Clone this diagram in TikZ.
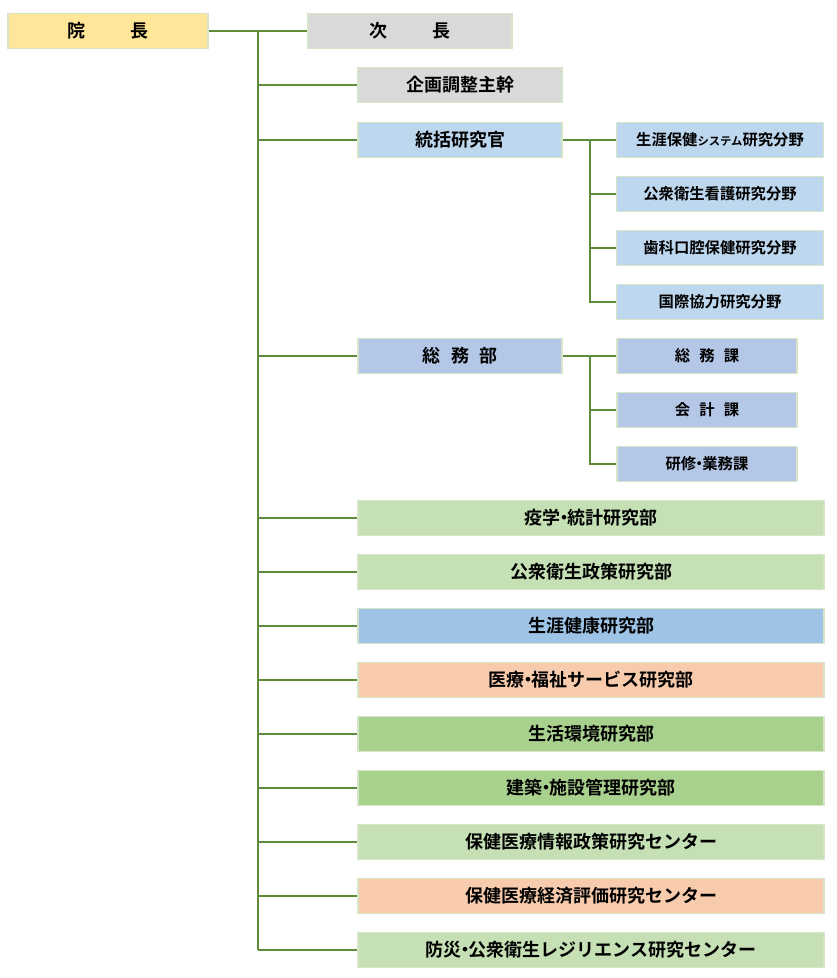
\documentclass[tikz,border=0pt]{standalone}
\usepackage{fontspec}
\setmainfont{Noto Sans CJK JP}[BoldFont={* Bold}]
\usepackage{tikz}

\definecolor{linegreen}{HTML}{5E8C3A}
\definecolor{boxedge}{HTML}{D6E4C8}
\definecolor{cyellow}{HTML}{FFE699}
\definecolor{cgray}{HTML}{D9D9D9}
\definecolor{cpaleblue}{HTML}{BDD7EE}
\definecolor{cblue}{HTML}{B4C7E7}
\definecolor{cmidblue}{HTML}{9DC3E6}
\definecolor{cpalegreen}{HTML}{C5E0B4}
\definecolor{cgreen}{HTML}{A9D18E}
\definecolor{corange}{HTML}{F8CBAD}

\tikzset{
  box/.style={draw=boxedge, line width=0.8pt, minimum height=26.25pt, inner sep=0pt, font=\bfseries\fontsize{13.5}{15}\selectfont},
  midbox/.style={box, minimum width=153pt},
  subbox/.style={box, minimum width=155.25pt, font=\bfseries\fontsize{11.5}{13}\selectfont},
  smallbox/.style={box, minimum width=135pt, font=\bfseries\fontsize{11.5}{13}\selectfont},
  widebox/.style={box, minimum width=349.5pt},
  wire/.style={draw=linegreen, line width=2.2pt}
}

\begin{document}
\begin{tikzpicture}[x=0.75pt,y=-0.75pt]
  \useasboundingbox (0,0) rectangle (836,978);

  \node[box, minimum width=150pt, fill=cyellow] (director) at (108,31) {院\hspace{2.5em}長};
  \node[box, minimum width=153pt, fill=cgray] (deputy) at (410,31) {次\hspace{2.5em}長};
  \node[midbox, fill=cgray] (planning) at (460,85) {企画調整主幹};
  \node[midbox, fill=cpaleblue] (chief) at (460,140) {統括研究官};
  \node[subbox, fill=cpaleblue] (lifelong) at (720,140) {生涯保健{\fontsize{8.5}{10}\selectfont システム}研究分野};
  \node[subbox, fill=cpaleblue] (nursing) at (720,194) {公衆衛生看護研究分野};
  \node[subbox, fill=cpaleblue] (dental) at (720,248) {歯科口腔保健研究分野};
  \node[subbox, fill=cpaleblue] (intl) at (720,302) {国際協力研究分野};
  \node[midbox, fill=cblue] (admin) at (460,356) {総\hspace{0.6em}務\hspace{0.6em}部};
  \node[smallbox, fill=cblue] (general) at (707,356) {総\hspace{0.6em}務\hspace{0.6em}課};
  \node[smallbox, fill=cblue] (account) at (707,410) {会\hspace{0.6em}計\hspace{0.6em}課};
  \node[smallbox, fill=cblue] (training) at (707,464) {研修\kern-0.3em・\kern-0.3em業務課};

  \node[widebox, fill=cpalegreen] (epi) at (591,518) {疫学\kern-0.3em・\kern-0.3em統計研究部};
  \node[widebox, fill=cpalegreen] (policy) at (591,572) {公衆衛生政策研究部};
  \node[widebox, fill=cmidblue] (health) at (591,626) {生涯健康研究部};
  \node[widebox, fill=corange] (welfare) at (591,680) {医療\kern-0.3em・\kern-0.3em福祉サービス研究部};
  \node[widebox, fill=cgreen] (environ) at (591,734) {生活環境研究部};
  \node[widebox, fill=cgreen] (building) at (591,788) {建築\kern-0.3em・\kern-0.3em施設管理研究部};
  \node[widebox, fill=cpalegreen] (info) at (591,842) {保健医療情報政策研究センター};
  \node[widebox, fill=corange] (economy) at (591,896) {保健医療経済評価研究センター};
  \node[widebox, fill=cpalegreen] (disaster) at (591,950) {防災\kern-0.3em・\kern-0.3em公衆衛生レジリエンス研究センター};

  \coordinate (top) at (258,31);
  \coordinate (bottom) at (258,950);
  \draw[wire] (director) -- (deputy);
  \draw[wire] (top) -- (bottom);
  \foreach \n in {planning,chief,admin,epi,policy,health,welfare,environ,building,info,economy,disaster}
    \draw[wire] (258,0 |- \n.west) -- (\n.west);

  \draw[wire] (chief) -- (lifelong);
  \draw[wire] (590,140) -- (590,302) -- (intl.west);
  \draw[wire] (590,194) -- (nursing.west);
  \draw[wire] (590,248) -- (dental.west);
  \draw[wire] (admin) -- (general);
  \draw[wire] (590,356) -- (590,464) -- (training.west);
  \draw[wire] (590,410) -- (account.west);
\end{tikzpicture}
\end{document}
